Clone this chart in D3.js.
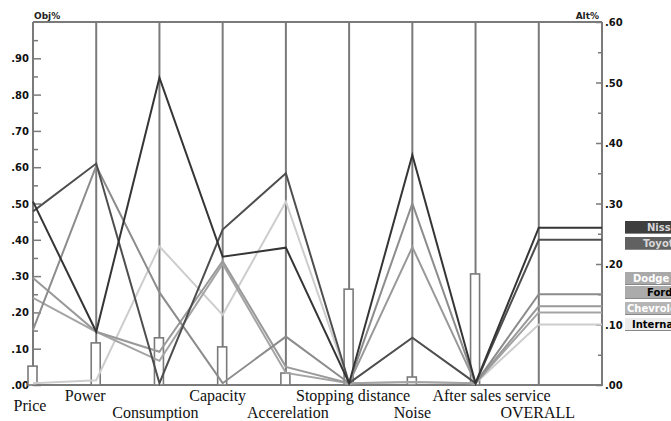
<!DOCTYPE html>
<html>
<head>
<meta charset="utf-8">
<script src="https://cdn.jsdelivr.net/npm/d3@7/dist/d3.min.js"></script>
<style>
  html, body { margin: 0; padding: 0; background: #ffffff; overflow: hidden; }
  svg { display: block; }
</style>
</head>
<body>
<svg id="chart" width="671" height="421"></svg>
<script>
// Criteria along the horizontal axis, plus the overall column
const criteria = ["Price", "Power", "Consumption", "Capacity", "Accerelation",
                  "Stopping distance", "Noise", "After sales service"];
const overallLabel = "OVERALL";

// Objective weights (Obj%, left axis)
const objWeights = [0.052, 0.116, 0.130, 0.105, 0.033, 0.264, 0.022, 0.306];

// Alternatives and their priorities under each criterion, then overall (Alt%, right axis)
const alternatives = ["Nissan", "Toyota", "Dodge", "Ford", "Chevrolet", "International"];
const nissan        = [0.303, 0.088, 0.508, 0.212, 0.227, 0.003, 0.380, 0.003, 0.260];
const toyota        = [0.287, 0.366, 0.003, 0.257, 0.350, 0.003, 0.078, 0.003, 0.240];
const dodge         = [0.091, 0.362, 0.153, 0.003, 0.080, 0.003, 0.300, 0.003, 0.150];
const ford          = [0.177, 0.088, 0.055, 0.205, 0.030, 0.003, 0.228, 0.003, 0.130];
const chevrolet     = [0.144, 0.088, 0.040, 0.200, 0.020, 0.003, 0.005, 0.003, 0.120];
const international = [0.003, 0.008, 0.229, 0.116, 0.303, 0.003, 0.005, 0.003, 0.100];
const altValues = [nissan, toyota, dodge, ford, chevrolet, international];

// Tick labels
const objTicks = [".00", ".10", ".20", ".30", ".40", ".50", ".60", ".70", ".80", ".90"];
const altTicks = [".00", ".10", ".20", ".30", ".40", ".50", ".60"];

// Styling
const lineColors   = ["#353535", "#4e4e4e", "#8c8c8c", "#999999", "#a4a4a4", "#cdcdcd"];
const legendFill   = ["#3e3e3e", "#616161", "#a9a9a9", "#ababab", "#b5b5b5", "#ececec"];
const legendText   = ["#d8d8d8", "#d8d8d8", "#ffffff", "#000000", "#ffffff", "#000000"];

const svg = d3.select("#chart");
const plotTop = 22, plotBottom = 385;
const columns = criteria.concat([overallLabel]);

const x = d3.scalePoint().domain(d3.range(columns.length + 1)).range([33, 602]);
const yObj = d3.scaleLinear().domain([0, 1]).range([plotBottom, plotTop]);
const yAlt = d3.scaleLinear().domain([0, 0.6]).range([plotBottom, plotTop]);

const axisColor = "#7a7a7a";

// Vertical criterion lines
svg.append("g").selectAll("line")
  .data(d3.range(1, columns.length))
  .join("line")
  .attr("x1", d => x(d)).attr("x2", d => x(d))
  .attr("y1", plotTop).attr("y2", plotBottom)
  .attr("stroke", axisColor).attr("stroke-width", 2);

// Left axis (Obj%)
const leftAxis = d3.axisRight(yObj)
  .tickValues(d3.range(0, 0.951, 0.05))
  .tickSize(0).tickFormat("");
const gl = svg.append("g").attr("transform", `translate(${x(0)},0)`).call(leftAxis);
gl.select(".domain").remove();
gl.selectAll(".tick").append("line")
  .attr("x1", 0).attr("x2", (d, i) => i % 2 === 0 ? 8 : 5)
  .attr("stroke", axisColor).attr("stroke-width", 1.5);
svg.append("line").attr("x1", x(0)).attr("x2", x(0))
  .attr("y1", plotTop).attr("y2", plotBottom + 1)
  .attr("stroke", axisColor).attr("stroke-width", 2);
svg.append("g").selectAll("text")
  .data(objTicks)
  .join("text")
  .attr("x", 29).attr("y", (d, i) => yObj(i / 10) + 4)
  .attr("text-anchor", "end")
  .attr("font-family", "DejaVu Sans").attr("font-weight", "bold")
  .attr("font-size", 10).attr("fill", "#111")
  .text(d => d);

// Right axis (Alt%)
const rightAxis = d3.axisLeft(yAlt)
  .tickValues(d3.range(0, 0.601, 0.05))
  .tickSize(0).tickFormat("");
const xr = x(columns.length);
const gr = svg.append("g").attr("transform", `translate(${xr},0)`).call(rightAxis);
gr.select(".domain").remove();
gr.selectAll(".tick").append("line")
  .attr("x1", 0).attr("x2", (d, i) => i % 2 === 0 ? -6 : -4)
  .attr("stroke", axisColor).attr("stroke-width", 1.5);
svg.append("line").attr("x1", xr).attr("x2", xr)
  .attr("y1", plotTop).attr("y2", plotBottom + 1)
  .attr("stroke", axisColor).attr("stroke-width", 2);
svg.append("g").selectAll("text")
  .data(altTicks)
  .join("text")
  .attr("x", xr + 3).attr("y", (d, i) => yAlt(i / 10) + 4)
  .attr("text-anchor", "start")
  .attr("font-family", "DejaVu Sans").attr("font-weight", "bold")
  .attr("font-size", 10).attr("fill", "#111")
  .text(d => d);

// Frame: top and baseline
svg.append("line").attr("x1", x(0)).attr("x2", xr)
  .attr("y1", plotTop).attr("y2", plotTop)
  .attr("stroke", axisColor).attr("stroke-width", 2);
svg.append("line").attr("x1", x(0)).attr("x2", xr)
  .attr("y1", plotBottom).attr("y2", plotBottom)
  .attr("stroke", axisColor).attr("stroke-width", 2);

// Axis titles
svg.append("text").attr("x", x(0) + 1).attr("y", 19)
  .attr("font-family", "DejaVu Sans").attr("font-weight", "bold")
  .attr("font-size", 9).attr("fill", "#222").text("Obj%");
svg.append("text").attr("x", xr - 3).attr("y", 19).attr("text-anchor", "end")
  .attr("font-family", "DejaVu Sans").attr("font-weight", "bold")
  .attr("font-size", 9).attr("fill", "#222").text("Alt%");

// Objective weight bars
svg.append("g").selectAll("rect")
  .data(objWeights)
  .join("rect")
  .attr("x", (d, i) => x(i) - 5)
  .attr("width", 9)
  .attr("y", d => yObj(d))
  .attr("height", d => plotBottom - yObj(d))
  .attr("fill", "#ffffff")
  .attr("stroke", axisColor).attr("stroke-width", 1.6);

// Alternative lines across criteria, ending with a flat overall segment
const line = d3.line()
  .x(d => d[0])
  .y(d => yAlt(d[1]));
const order = d3.range(alternatives.length).reverse();
svg.append("g").selectAll("path")
  .data(order)
  .join("path")
  .attr("d", k => {
    const vals = altValues[k];
    const pts = vals.map((v, i) => [x(i), v]);
    pts.push([xr, vals[vals.length - 1]]);
    return line(pts);
  })
  .attr("fill", "none")
  .attr("stroke", k => lineColors[k])
  .attr("stroke-width", 2)
  .attr("stroke-linejoin", "miter");

// Criterion labels (two staggered rows)
const labelShift = [-3, -11, -4, -5, 2, 4, 0, 16, -1];
const labelRow = [1, 0, 1, 0, 1, 0, 1, 0, 1];
svg.append("g").selectAll("text")
  .data(columns)
  .join("text")
  .attr("x", (d, i) => x(i) + labelShift[i])
  .attr("y", (d, i) => labelRow[i] ? (i === 0 ? 411 : 418) : 401)
  .attr("text-anchor", "middle")
  .attr("font-family", "Liberation Serif")
  .attr("font-size", 16)
  .attr("fill", "#111")
  .text(d => d);

// Legend boxes for alternatives
const legendY = [227, 243, 278, 292, 308, 324];
const legendTextX = [647, 643, 633, 647, 627, 632];
const lg = svg.append("g").selectAll("g")
  .data(alternatives)
  .join("g");
lg.append("rect")
  .attr("x", 625).attr("width", 60)
  .attr("y", (d, i) => legendY[i] - 6).attr("height", 12)
  .attr("fill", (d, i) => legendFill[i]);
lg.append("line")
  .attr("x1", 625).attr("x2", 671)
  .attr("y1", (d, i) => legendY[i] + 6.5).attr("y2", (d, i) => legendY[i] + 6.5)
  .attr("stroke", "#888").attr("stroke-width", 1);
lg.append("text")
  .attr("x", (d, i) => legendTextX[i])
  .attr("y", (d, i) => legendY[i] + 4)
  .attr("font-family", "DejaVu Sans").attr("font-weight", "bold")
  .attr("font-size", 10)
  .attr("fill", (d, i) => legendText[i])
  .text(d => d);
</script>
</body>
</html>
